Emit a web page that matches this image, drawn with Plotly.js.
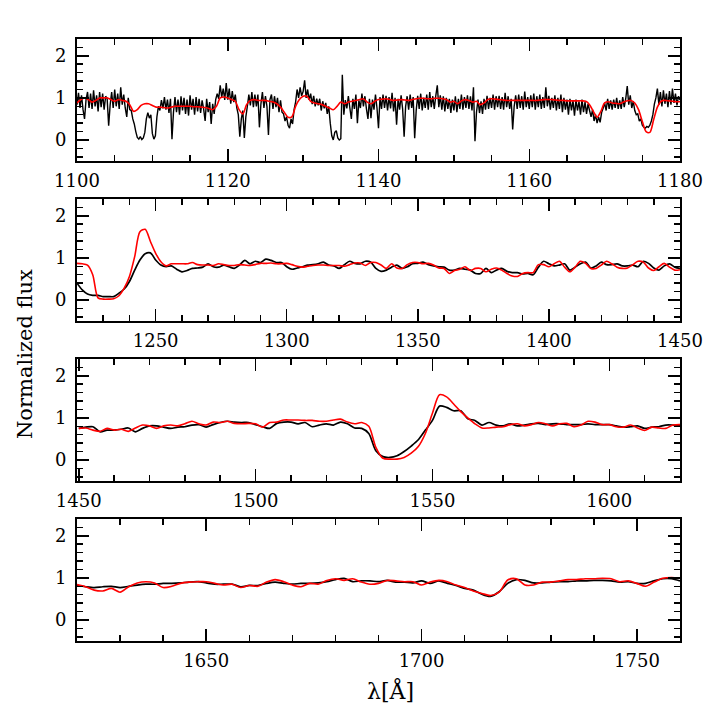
<!DOCTYPE html>
<html><head><meta charset="utf-8">
<script src="https://cdn.plot.ly/plotly-3.0.1.min.js"></script>
<style>html,body{margin:0;padding:0;background:#fff}#plot{width:718px;height:718px}</style>
</head><body><div id="plot"></div>
<script>
// ---------- Panel 1 (1100-1180 Å), observed at 0.2 Å, model at 0.5 Å ----------
const fuvObsStart = 1100, fuvObsStep = 0.2;
const fuvObs = [
0.84,1.12,0.76,1.06,0.72,0.5,0.96,1.14,0.76,1.1,0.74,1.18,0.8,1.06,0.68,1.14,0.78,1.1,0.72,1.04,
0.98,0.34,0.84,1.14,0.76,1.2,0.8,1.1,0.74,1.25,0.84,1.08,0.76,0.55,1.0,0.72,0.7,0.5,0.38,0.2,
0.06,0.02,0.08,0.01,0.05,0.18,0.5,0.65,0.52,0.6,0.15,0.02,0.1,0.55,0.8,0.7,0.95,0.75,1.02,0.72,
0.96,0.64,0.98,0.02,0.66,1.02,0.66,0.96,0.6,1.04,0.7,1.0,0.62,0.96,0.58,1.06,0.72,0.98,0.6,1.02,
0.68,0.98,0.64,0.94,0.74,0.45,0.98,0.66,0.9,0.38,0.86,0.62,0.96,1.1,0.98,1.3,1.02,1.22,0.95,1.35,
0.96,1.22,0.86,1.16,0.9,1.08,0.76,0.6,0.08,0.5,0.7,0.05,0.55,0.8,1.08,0.82,1.14,0.78,1.08,0.8,
1.08,0.3,0.86,1.14,0.76,1.04,0.8,0.12,0.96,1.08,0.74,1.04,0.78,1.0,0.66,0.94,0.66,0.62,0.45,0.55,
0.35,0.28,0.5,0.38,0.72,0.9,1.2,1.0,1.25,1.05,1.15,1.42,1.0,1.2,0.95,1.1,0.85,1.05,0.8,0.98,
0.82,0.98,0.7,0.92,0.75,0.88,0.62,0.8,0.4,0.1,0.0,0.18,0.22,0.05,0.0,0.03,1.55,0.6,0.95,0.75,
1.04,0.76,0.5,0.98,0.74,1.08,0.4,0.94,0.76,1.1,0.8,1.04,0.74,0.5,0.98,0.52,0.96,0.72,1.08,0.76,
0.28,1.02,0.74,1.08,0.76,1.05,0.7,1.02,0.75,1.12,0.68,1.0,0.36,0.98,0.72,1.06,0.74,0.08,0.8,1.04,
0.72,1.08,0.76,1.02,0.04,0.7,1.05,0.74,1.1,0.7,1.0,0.76,1.08,0.72,1.14,0.78,1.04,0.74,1.05,1.3,
0.78,1.06,0.72,1.04,0.68,1.0,0.74,0.98,0.64,0.96,0.7,1.04,0.66,0.98,0.74,1.08,0.72,1.02,0.76,1.06,
0.74,1.04,0.7,1.25,-0.03,0.66,0.96,0.64,0.92,0.62,0.98,0.72,1.05,0.74,1.0,0.76,1.08,0.72,1.04,0.78,
1.05,0.74,1.02,0.72,1.12,0.78,1.04,0.74,0.98,0.25,0.8,1.06,0.74,1.08,0.76,1.04,0.72,1.15,0.78,1.02,
0.74,1.06,0.78,1.1,0.72,1.04,0.78,1.08,0.74,1.02,0.76,1.25,0.8,1.05,0.72,1.0,0.76,1.06,0.7,1.0,
0.74,1.08,0.66,1.0,0.72,0.96,0.6,0.98,0.7,0.94,0.58,0.96,0.7,0.92,0.6,0.96,0.66,0.9,0.62,0.86,
0.7,0.55,0.72,0.45,0.6,0.4,0.55,0.42,0.65,0.75,0.88,0.7,0.98,0.74,0.94,0.72,0.96,0.76,1.0,0.74,
0.94,0.74,1.02,0.78,0.98,1.28,0.84,1.06,0.76,0.92,0.7,0.6,0.62,0.45,0.5,0.35,0.3,0.28,0.32,0.3,
0.35,0.45,0.6,0.85,1.0,1.22,0.84,1.14,0.8,1.18,0.86,1.1,0.78,1.16,0.84,1.22,0.88,1.1,0.82,1.04,
0.95];
const fuvModStart = 1100, fuvModStep = 0.5;
const fuvMod = [
0.88,0.96,1.0,0.96,0.9,0.94,1.0,1.0,1.0,0.96,0.92,0.96,0.94,0.92,0.84,0.68,0.72,0.82,0.86,0.86,
0.82,0.78,0.78,0.77,0.76,0.78,0.8,0.8,0.8,0.8,0.8,0.79,0.79,0.78,0.77,0.75,0.72,0.8,1.0,1.02,
1.0,0.96,0.92,0.72,0.62,0.84,0.94,0.96,0.94,0.94,0.94,0.92,0.9,0.86,0.78,0.66,0.54,0.55,0.8,0.96,
1.04,1.04,0.92,0.88,0.86,0.84,0.8,0.76,0.72,0.8,0.9,0.86,0.9,0.92,0.94,0.96,0.98,0.9,0.86,0.92,
0.96,0.97,0.98,0.96,0.94,0.95,0.96,0.95,0.94,0.96,0.98,0.99,0.99,0.98,0.98,0.99,0.99,0.98,0.96,0.9,
0.92,0.86,0.93,0.96,0.94,0.9,0.92,0.84,0.88,0.96,0.98,0.97,0.96,0.95,0.94,0.94,0.94,0.94,0.94,0.94,
0.94,0.94,0.94,0.95,0.96,0.96,0.96,0.95,0.94,0.94,0.93,0.93,0.93,0.93,0.93,0.92,0.84,0.68,0.54,0.68,
0.88,0.91,0.88,0.87,0.86,0.9,0.93,0.94,0.88,0.72,0.44,0.2,0.18,0.48,0.78,0.92,0.94,0.93,0.92,0.91,
0.91];

// ---------- Panels 2-4, 2 Å sampling ----------
const nuvStep = 2;
const p2Start = 1220;
const p2Obs = [
0.4,0.24,0.14,0.11,0.11,0.08,0.08,0.08,0.16,0.26,
0.44,0.71,0.95,1.1,1.12,0.95,0.83,0.79,0.81,0.73,
0.67,0.7,0.75,0.76,0.78,0.86,0.79,0.78,0.83,0.79,
0.75,0.83,0.94,0.86,0.92,0.89,0.97,0.94,0.89,0.89,
0.79,0.73,0.76,0.79,0.83,0.84,0.86,0.9,0.83,0.81,
0.75,0.84,0.92,0.87,0.86,0.92,0.9,0.75,0.68,0.71,
0.78,0.83,0.75,0.79,0.86,0.87,0.9,0.84,0.81,0.79,
0.78,0.71,0.71,0.75,0.73,0.71,0.63,0.63,0.75,0.65,
0.71,0.75,0.68,0.65,0.65,0.62,0.63,0.6,0.78,0.92,
0.86,0.81,0.83,0.86,0.71,0.78,0.86,0.9,0.76,0.81,
0.9,0.84,0.84,0.86,0.81,0.81,0.83,0.79,0.92,0.87,
0.76,0.71,0.81,0.86,0.78,0.75];
const p2Mod = [
0.87,0.86,0.83,0.6,0.05,0.02,0.02,0.03,0.1,0.28,
0.56,1.03,1.62,1.68,1.39,1.11,0.91,0.81,0.86,0.86,
0.86,0.86,0.89,0.84,0.83,0.83,0.82,0.86,0.84,0.82,
0.82,0.84,0.83,0.82,0.84,0.87,0.87,0.88,0.86,0.86,
0.87,0.84,0.8,0.78,0.8,0.82,0.83,0.83,0.82,0.82,
0.82,0.8,0.84,0.88,0.88,0.82,0.89,0.89,0.83,0.75,
0.86,0.76,0.75,0.84,0.89,0.89,0.86,0.87,0.83,0.76,
0.75,0.63,0.7,0.73,0.79,0.7,0.75,0.75,0.67,0.73,
0.76,0.71,0.63,0.57,0.56,0.63,0.65,0.65,0.84,0.84,
0.79,0.86,0.92,0.78,0.67,0.78,0.92,0.87,0.75,0.75,
0.83,0.92,0.86,0.78,0.75,0.76,0.84,0.92,0.9,0.76,
0.7,0.79,0.87,0.78,0.71,0.72];
const p3Start = 1450;
const p3Obs = [
0.75,0.78,0.79,0.67,0.71,0.71,0.73,0.76,0.67,0.75,
0.81,0.81,0.78,0.75,0.78,0.79,0.83,0.84,0.78,0.84,
0.89,0.92,0.9,0.89,0.89,0.84,0.79,0.75,0.87,0.9,
0.9,0.86,0.89,0.79,0.83,0.86,0.83,0.9,0.86,0.76,
0.75,0.63,0.22,0.08,0.06,0.1,0.2,0.33,0.48,0.71,
0.94,1.28,1.25,1.17,1.17,0.98,0.94,0.83,0.89,0.83,
0.81,0.86,0.81,0.83,0.86,0.87,0.84,0.86,0.86,0.84,
0.84,0.84,0.86,0.84,0.84,0.84,0.81,0.78,0.79,0.81,
0.75,0.78,0.79,0.83,0.83,0.82];
const p3Mod = [
0.75,0.76,0.71,0.68,0.75,0.71,0.73,0.68,0.76,0.83,
0.81,0.75,0.81,0.83,0.81,0.86,0.92,0.86,0.83,0.9,
0.89,0.92,0.87,0.86,0.87,0.86,0.78,0.89,0.9,0.95,
0.95,0.95,0.94,0.94,0.92,0.92,0.95,0.97,0.9,0.86,
0.89,0.8,0.3,0.04,0.02,0.02,0.06,0.16,0.32,0.63,
1.11,1.55,1.5,1.33,1.15,1.0,0.86,0.76,0.76,0.78,
0.79,0.84,0.86,0.81,0.84,0.89,0.86,0.81,0.86,0.87,
0.79,0.83,0.92,0.9,0.84,0.84,0.79,0.78,0.83,0.76,
0.7,0.78,0.76,0.75,0.83,0.84];
const p4Start = 1620;
const p4Obs = [
0.82,0.79,0.77,0.79,0.8,0.77,0.8,0.83,0.85,0.85,
0.87,0.87,0.88,0.9,0.91,0.88,0.85,0.85,0.85,0.79,
0.82,0.82,0.87,0.9,0.87,0.85,0.87,0.87,0.88,0.91,
0.96,0.99,0.91,0.93,0.93,0.91,0.94,0.9,0.9,0.88,
0.93,0.87,0.93,0.87,0.82,0.75,0.71,0.61,0.56,0.67,
0.87,0.96,0.94,0.88,0.88,0.9,0.91,0.91,0.93,0.93,
0.94,0.94,0.93,0.9,0.91,0.87,0.87,0.93,0.98,0.98,
0.93];
const p4Mod = [
0.84,0.79,0.71,0.69,0.75,0.66,0.79,0.88,0.91,0.88,
0.77,0.8,0.87,0.9,0.91,0.91,0.87,0.83,0.85,0.77,
0.82,0.8,0.9,0.96,0.91,0.83,0.79,0.87,0.85,0.94,
0.98,0.94,0.98,0.9,0.85,0.87,0.94,0.93,0.91,0.91,
0.83,0.9,0.94,0.91,0.83,0.77,0.69,0.63,0.58,0.66,
0.95,0.98,0.83,0.83,0.9,0.9,0.93,0.96,0.96,0.98,
0.98,0.99,0.98,0.91,0.93,0.87,0.8,0.9,0.99,1.01,
0.99];

const xRanges = [[1100,1180],[1220,1450.01],[1449.5,1620],[1620,1760]];
const xMajor = [20,50,50,50];
const xMinor = [5,10,10,10];
const yRange = [-0.5,2.4];
const yTickLabels = ['0','1','2'];

function grid(start, step, n){ const a=[]; for(let i=0;i<n;i++) a.push(+(start+step*i).toFixed(3)); return a; }

const traces = [];
function addPair(xs, obs, xm, mod, k, shapeObs, shapeMod, wObs){
  const ax = k===1?'':String(k);
  traces.push({x:xs, y:obs, type:'scatter', mode:'lines', xaxis:'x'+ax, yaxis:'y'+ax,
    line:{color:'#000', width:wObs, shape:shapeObs, smoothing:0.8, simplify:false}, hoverinfo:'skip'});
  traces.push({x:xm, y:mod, type:'scatter', mode:'lines', xaxis:'x'+ax, yaxis:'y'+ax,
    line:{color:'#ff0000', width:1.6, shape:shapeMod, smoothing:0.8}, hoverinfo:'skip'});
}
addPair(grid(fuvObsStart,fuvObsStep,fuvObs.length), fuvObs, grid(fuvModStart,fuvModStep,fuvMod.length), fuvMod, 1, 'linear','spline',1.4);
const g2 = grid(p2Start,nuvStep,p2Obs.length), g3 = grid(p3Start,nuvStep,p3Obs.length), g4 = grid(p4Start,nuvStep,p4Obs.length);
addPair(g2,p2Obs,g2,p2Mod,2,'spline','spline',1.7);
addPair(g3,p3Obs,g3,p3Mod,3,'spline','spline',1.7);
addPair(g4,p4Obs,g4,p4Mod,4,'spline','spline',1.7);

const H = 718;
const panelPx = [[39,161],[199,321],[359,481],[519,641]];
const FONT = 'DejaVu Serif';
const layout = {
  width:718, height:718, margin:{l:77,r:38,t:0,b:0},
  paper_bgcolor:'#fff', plot_bgcolor:'#fff', showlegend:false,
  font:{family:FONT, color:'#000'},
  annotations:[
    {text:'Normalized flux', xref:'paper', yref:'paper', x:(25-77)/603, y:1-354/H, xanchor:'center', yanchor:'middle', textangle:-90, showarrow:false, font:{family:FONT, size:21, color:'#000'}},
    {text:'λ[Å]', xref:'paper', yref:'paper', x:(390-77)/603, y:1-690/H, xanchor:'center', yanchor:'middle', showarrow:false, font:{family:FONT, size:22, color:'#000'}}
  ]
};
for(let k=1;k<=4;k++){
  const ax = k===1?'':String(k);
  const [top,bot] = panelPx[k-1];
  layout['xaxis'+ax] = {
    domain:[0,1], anchor:'y'+ax, range:xRanges[k-1], tickmode:'linear', tick0:0, dtick:xMajor[k-1],
    ticks:'inside', ticklen:12, tickwidth:1.5, tickcolor:'#000',
    showline:true, linewidth:2, linecolor:'#000', mirror:'ticks',
    showgrid:false, zeroline:false,
    minor:{ticks:'inside', ticklen:6, tickwidth:1.5, tickcolor:'#000', tick0:0, dtick:xMinor[k-1], showgrid:false},
    tickfont:{family:FONT, size:18, color:'#000'}, ticklabelstandoff:2
  };
  layout['yaxis'+ax] = {
    domain:[1-bot/H, 1-top/H], anchor:'x'+ax, range:yRange,
    tickmode:'array', tickvals:[0,1,2], ticktext:yTickLabels,
    ticks:'inside', ticklen:12, tickwidth:1.5, tickcolor:'#000',
    showline:true, linewidth:2, linecolor:'#000', mirror:'ticks',
    showgrid:false, zeroline:false,
    minor:{ticks:'inside', ticklen:6, tickwidth:1.5, tickcolor:'#000', tick0:0, dtick:0.2, showgrid:false},
    tickfont:{family:FONT, size:18, color:'#000'}, ticklabelstandoff:5
  };
}
Plotly.newPlot('plot', traces, layout, {staticPlot:true, displayModeBar:false});
</script></body></html>
